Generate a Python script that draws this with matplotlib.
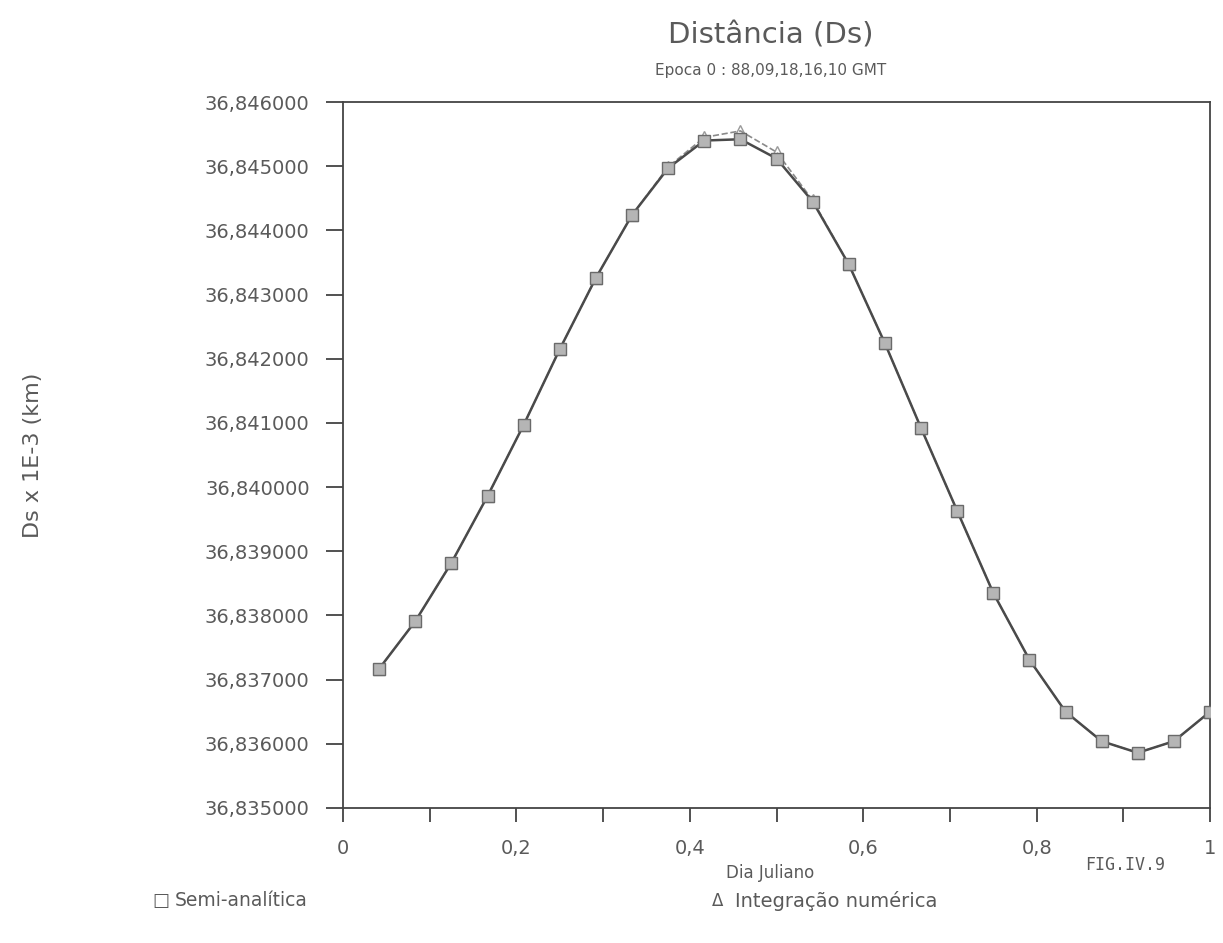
import matplotlib
matplotlib.use("Agg")
import matplotlib.pyplot as plt
import numpy as np
from matplotlib.ticker import FuncFormatter, MultipleLocator

# Dia Juliano (fração do dia), 24 pontos horários
dia = [k / 24 for k in range(1, 25)]

# Ds x 1E-3 (km) - semi-analítica
ds_semi = [36.83717, 36.83791, 36.83882, 36.83986, 36.84097, 36.84215,
           36.84326, 36.84424, 36.84497, 36.84540, 36.84542, 36.84512,
           36.84445, 36.84347, 36.84224, 36.84092, 36.83963, 36.83835,
           36.83731, 36.83650, 36.83604, 36.83586, 36.83604, 36.83650]

# Ds x 1E-3 (km) - integração numérica
ds_num = [36.83717, 36.83791, 36.83882, 36.83986, 36.84097, 36.84215,
          36.84326, 36.84424, 36.84499, 36.84545, 36.84555, 36.84522,
          36.84447, 36.84347, 36.84224, 36.84092, 36.83963, 36.83835,
          36.83731, 36.83650, 36.83604, 36.83586, 36.83604, 36.83650]

txt = "#5a5a5a"

fig = plt.figure(figsize=(12.23, 9.43), dpi=100)
ax = fig.add_axes([0.2805, 0.1432, 0.7089, 0.7486])

ax.plot(dia, ds_num, color="#8a8a8a", linestyle="--", linewidth=1.2,
        marker="^", markersize=9, markerfacecolor="none", markeredgecolor="#9a9a9a",
        zorder=2)
ax.plot(dia, ds_semi, color="#4a4a4a", linewidth=1.8,
        marker="s", markersize=9, markerfacecolor="#b5b5b5", markeredgecolor="#6a6a6a",
        zorder=3)

ax.set_xlim(0, 1)
ax.set_ylim(36.835, 36.846)
ax.xaxis.set_major_locator(MultipleLocator(0.2))
ax.xaxis.set_minor_locator(MultipleLocator(0.1))
ax.yaxis.set_major_locator(MultipleLocator(0.001))

ax.xaxis.set_major_formatter(FuncFormatter(lambda v, p: "0" if abs(v) < 1e-9 else ("1" if abs(v - 1) < 1e-9 else f"{v:.1f}".replace(".", ","))))
ax.yaxis.set_major_formatter(FuncFormatter(lambda v, p: f"{v:.6f}".replace(".", ",")))

ax.tick_params(axis="both", which="both", direction="out", colors="#333333",
               labelcolor=txt, labelsize=14)
ax.tick_params(axis="y", length=12, width=1.2, pad=12)
ax.tick_params(axis="x", which="both", length=10, width=1.2, pad=12)
for s in ax.spines.values():
    s.set_color("#444444")
    s.set_linewidth(1.3)

fig.text(0.63, 0.962, "Distância (Ds)", ha="center", va="center", fontsize=21, color=txt)
fig.text(0.63, 0.925, "Epoca 0 : 88,09,18,16,10 GMT", ha="center", va="center", fontsize=11, color=txt)
fig.text(0.027, 0.517, "Ds x 1E-3 (km)", ha="center", va="center", rotation=90, fontsize=16, color=txt)
fig.text(0.63, 0.074, "Dia Juliano", ha="center", va="center", fontsize=12, color=txt)
fig.text(0.92, 0.083, "FIG.IV.9", ha="center", va="center", fontsize=12, color=txt,
         family="DejaVu Sans Mono")

fig.text(0.125, 0.045, "□", ha="left", va="center", fontsize=13, color=txt)
fig.text(0.143, 0.045, "Semi-analítica", ha="left", va="center", fontsize=13.5, color=txt)
fig.text(0.582, 0.045, "Δ", ha="left", va="center", fontsize=12, color=txt)
fig.text(0.601, 0.045, "Integração numérica", ha="left", va="center", fontsize=14, color=txt)

fig.savefig("out.png", dpi=100, facecolor="white")
